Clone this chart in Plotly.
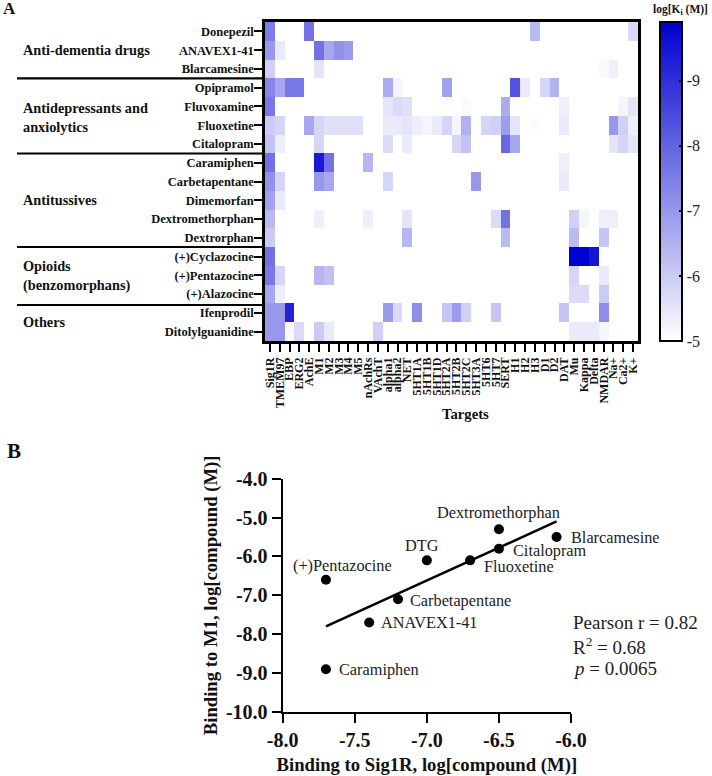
import plotly.graph_objects as go

N = None
targets = ["Sig1R","TMEM97","EBP","ERG2","AchE","M1","M2","M3","M4","M5","nAchRs","VAchT","alpha1","alpha2","NET",
           "5HT1A","5HT1B","5HT1D","5HT2A","5HT2B","5HT2C","5HT3A","5HT6","5HT7","SERT","H1","H2","H3","D1","D2",
           "DAT","Mu","Kappa","Delta","NMDAR","Na+","Ca2+","K+"]
compounds = ["Donepezil","ANAVEX1-41","Blarcamesine","Opipramol","Fluvoxamine","Fluoxetine","Citalopram","Caramiphen",
             "Carbetapentane","Dimemorfan","Dextromethorphan","Dextrorphan","(+)Cyclazocine","(+)Pentazocine",
             "(+)Alazocine","Ifenprodil","Ditolylguanidine"]

donepezil    = [-7.5,N,N,N,-7.7, N,N,N,N,N, N,N,N,N,N, N,N,N,N,N, N,N,N,N,N, N,N,-6.3,N,N, N,N,N,N,N, N,N,-5.7]
anavex       = [-7.0,-5.4,N,N,N, -7.7,-6.7,-7.1,-6.9,N, N,N,N,N,N, N,N,N,N,N, N,N,N,N,N, N,N,N,N,N, N,N,N,N,N, N,N,N]
blarcamesine = [-5.9,N,N,N,N, -5.5,N,N,N,N, N,N,N,N,N, N,N,N,N,N, N,N,N,N,N, N,N,N,N,N, N,N,N,N,-5.1, -5.3,N,N]
opipramol    = [-7.3,-6.7,-7.6,-7.6,N, N,N,N,N,N, N,N,-6.6,-5.2,N, N,N,N,-6.8,N, N,N,N,N,N, -8.3,-5.4,N,-5.8,-6.5, N,N,N,N,N, N,N,N]
fluvoxamine  = [-7.6,N,N,N,N, N,N,N,N,N, N,N,-5.5,-5.7,-5.6, N,N,N,N,N, -5.1,N,N,N,-6.6, N,N,N,N,N, -5.3,N,N,N,N, N,-5.2,-5.5]
fluoxetine   = [-6.0,-5.8,N,N,-6.7, -5.8,-5.6,-5.6,-5.6,-5.6, N,N,-5.4,-5.4,-5.5, -5.3,-5.2,-5.4,-5.8,-5.2, -6.5,N,-5.8,-5.9,-6.9, -5.5,N,-5.05,N,N, -5.4,N,N,N,N, -7.0,-5.9,-5.3]
citalopram   = [-6.2,-5.3,N,N,N, -5.8,N,N,N,N, N,N,-5.7,N,-5.4, N,N,N,N,-5.8, -6.2,N,N,N,-7.9, -6.7,N,N,N,N, N,N,N,N,N, -5.5,-5.8,-5.5]
caramiphen   = [-7.7,N,N,N,N, -9.4,-7.7,N,N,N, -6.4,N,N,N,N, N,N,N,N,N, N,N,N,N,N, N,N,N,N,N, -5.3,N,N,N,N, N,N,N]
carbetapentane = [-7.1,-5.8,N,N,N, -7.0,-6.7,N,N,N, N,N,-5.8,N,N, N,N,N,N,N, N,-7.0,N,N,N, N,N,N,N,N, -5.4,N,N,N,N, N,N,N]
dimemorfan   = [-6.8,-5.4,N,N,N, N,N,N,N,N, N,N,N,N,N, N,N,N,N,N, N,N,N,N,N, N,N,N,N,N, N,N,N,N,N, N,N,N]
dextromethorphan = [-6.3,N,N,N,N, -5.3,N,N,N,N, -5.3,N,N,N,-5.5, N,N,N,N,N, N,N,N,-5.7,-7.7, N,N,N,N,N, N,-5.9,-5.2,N,-5.3, -5.3,N,N]
dextrorphan  = [-6.0,N,N,N,N, N,N,N,N,N, N,N,N,N,-6.4, N,N,N,N,N, N,N,N,N,-6.3, N,N,N,N,N, N,-6.3,N,N,-6.1, N,N,N]
cyclazocine  = [-7.7,N,N,N,N, N,N,N,N,N, N,N,N,N,N, N,N,N,N,N, N,N,N,N,N, N,N,N,N,N, N,-9.9,-9.9,-9.5,N, N,N,N]
pentazocine  = [-7.6,-5.8,N,N,N, -6.4,-6.2,N,N,N, N,N,N,N,N, N,N,N,N,N, N,N,N,N,N, N,N,N,N,N, N,-5.8,N,N,-5.4, N,N,N]
alazocine    = [-6.7,-5.3,N,N,N, N,N,N,N,N, N,N,N,N,N, N,N,N,N,N, N,N,N,N,N, N,N,N,N,N, N,-5.7,-5.7,N,-6.0, N,N,N]
ifenprodil   = [-7.0,-7.0,-9.2,N,N, N,N,N,N,N, N,N,-6.9,-5.7,N, -7.2,N,N,-6.1,-6.9, -5.9,N,N,-6.1,N, N,N,N,N,N, -6.1,N,N,N,-7.2, N,N,N]
ditolyl      = [-7.0,-7.0,-5.1,-5.7,N, -6.0,-5.4,N,N,N, N,-5.9,N,N,N, N,N,N,N,N, N,N,N,N,N, N,N,N,N,N, N,-5.4,-5.4,-5.4,-5.2, N,N,N]

rows = [donepezil, anavex, blarcamesine, opipramol, fluvoxamine, fluoxetine, citalopram, caramiphen, carbetapentane,
        dimemorfan, dextromethorphan, dextrorphan, cyclazocine, pentazocine, alazocine, ifenprodil, ditolyl]

cb_ticks = [-5, -6, -7, -8, -9]

scatter_names = ["(+)Pentazocine","Caramiphen","ANAVEX1-41","Carbetapentane","DTG","Fluoxetine","Dextromethorphan","Citalopram","Blarcamesine"]
sig1r = [-7.7,-7.7,-7.4,-7.2,-7.0,-6.7,-6.5,-6.5,-6.1]
m1    = [-6.6,-8.9,-7.7,-7.1,-6.1,-6.1,-5.3,-5.8,-5.5]
fit_x = [-7.7,-6.1]
fit_y = [-7.8,-5.1]

label_pos = [("center",17,14),("left",11,0),("left",10,0),("left",10,-1),("center",-5,15),
             ("left",12,-6),("center",0,17),("left",12,-2),("left",12,0)]

groups = [("Anti-dementia drugs",50),("Antidepressants and<br>anxiolytics",117),("Antitussives",200),
          ("Opioids<br>(benzomorphans)",276),("Others",322)]
sep_y = [78.3,153.5,247,305]

W, H = 712, 776
MARGIN_R = 60
PW = W - MARGIN_R
FONT = "Liberation Serif"
px = lambda v: v / PW
py = lambda v: 1 - v / H

fig = go.Figure()
fig.add_trace(go.Heatmap(
    z=[[(-v if v is not None else None) for v in r] for r in rows],
    x=targets, y=compounds, xaxis="x", yaxis="y",
    zmin=5, zmax=9.9, xgap=0, ygap=0, hoverongaps=False,
    colorscale=[[0,"#ffffff"],[1,"#0000d0"]],
    colorbar=dict(
        xref="container", yref="container",
        x=660/W, xanchor="left", xpad=0, y=py(22), yanchor="top", ypad=0,
        lenmode="fraction", len=319/H, thicknessmode="pixels", thickness=22,
        outlinewidth=2, outlinecolor="#000000",
        tickmode="array", tickvals=[-t for t in cb_ticks], ticktext=[str(t) for t in cb_ticks],
        ticks="inside", ticklen=4, tickwidth=1.5, tickcolor="#000000",
        tickfont=dict(family=FONT, size=16, color="#222222"),
    ),
))
fig.add_trace(go.Scatter(x=sig1r, y=m1, mode="markers", xaxis="x2", yaxis="y2", showlegend=False,
                         marker=dict(color="#000000", size=10)))
fig.add_trace(go.Scatter(x=fit_x, y=fit_y, mode="lines", xaxis="x2", yaxis="y2", showlegend=False,
                         line=dict(color="#000000", width=2.5)))

ann = []
for name, x, y, (anc, dx, dy) in zip(scatter_names, sig1r, m1, label_pos):
    ann.append(dict(x=x, y=y, xref="x2", yref="y2", text=name, showarrow=False, xanchor=anc, yanchor="middle",
                    xshift=dx, yshift=dy, font=dict(family=FONT, size=16.3, color="#222222")))
for text, yc in groups:
    ann.append(dict(x=px(21), y=py(yc), xref="paper", yref="paper", text=f"<b>{text}</b>", showarrow=False,
                    xanchor="left", yanchor="middle", align="left", font=dict(family=FONT, size=14.3, color="#111111")))
ann.append(dict(x=px(1), y=py(9), xref="paper", yref="paper", text="<b>A</b>", showarrow=False, xanchor="left",
                yanchor="middle", font=dict(family=FONT, size=17, color="#111111")))
ann.append(dict(x=px(5), y=py(451), xref="paper", yref="paper", text="<b>B</b>", showarrow=False, xanchor="left",
                yanchor="middle", font=dict(family=FONT, size=21, color="#111111")))
ann.append(dict(x=px(680), y=py(10), xref="paper", yref="paper", text="<b>log[K<sub>i</sub> (M)]</b>", showarrow=False,
                xanchor="center", yanchor="middle", font=dict(family=FONT, size=11.5, color="#111111")))
ann.append(dict(x=px(465), y=py(414), xref="paper", yref="paper", text="<b>Targets</b>", showarrow=False,
                xanchor="center", yanchor="middle", font=dict(family=FONT, size=14.7, color="#111111")))
for text, yc in [("Pearson r = 0.82",622),("R<sup>2</sup> = 0.68",646),("<i>p</i> = 0.0065",668)]:
    ann.append(dict(x=px(571), y=py(yc), xref="paper", yref="paper", text=text, showarrow=False, xanchor="left",
                    yanchor="middle", font=dict(family=FONT, size=19, color="#222222")))

shapes = [dict(type="line", xref="paper", yref="paper", x0=px(17), x1=px(265), y0=py(v), y1=py(v),
               line=dict(color="#000000", width=2.2)) for v in sep_y]

fig.update_layout(
    width=W, height=H, margin=dict(l=0, r=MARGIN_R, t=0, b=0), plot_bgcolor="#ffffff", paper_bgcolor="#ffffff",
    showlegend=False, font=dict(family=FONT, color="#111111"), annotations=ann, shapes=shapes,
    xaxis=dict(domain=[px(265), px(638)], anchor="y", type="category", side="bottom", showgrid=False, zeroline=False,
               showline=True, mirror=True, linecolor="#000000", linewidth=2.5, automargin=False,
               ticks="outside", ticklen=8, tickwidth=1.8, tickcolor="#000000", tickangle=-90,
               tickmode="linear", dtick=1, ticklabelstandoff=1,
               tickfont=dict(family=FONT, size=12, color="#111111", weight="bold")),
    yaxis=dict(domain=[py(341), py(22)], anchor="x", type="category", autorange="reversed", showgrid=False, zeroline=False,
               showline=True, mirror=True, linecolor="#000000", linewidth=2.5, automargin=False,
               ticks="outside", ticklen=8, tickwidth=1.8, tickcolor="#000000", tickmode="linear", dtick=1,
               ticklabelstandoff=-2,
               tickfont=dict(family=FONT, size=12.5, color="#111111", weight="bold")),
    xaxis2=dict(domain=[px(282.7), px(571)], anchor="y2", range=[-8,-6], tickvals=[-8,-7.5,-7,-6.5,-6],
                ticktext=["-8.0","-7.5","-7.0","-6.5","-6.0"], showgrid=False, zeroline=False, showline=True,
                linecolor="#000000", linewidth=2.2, ticks="outside", ticklen=9, tickwidth=2, tickcolor="#000000", automargin=False,
                tickfont=dict(family=FONT, size=20, color="#111111", weight="bold"),
                title=dict(text="<b>Binding to Sig1R, log[compound (M)]</b>", font=dict(family=FONT, size=18.7, color="#111111"), standoff=8)),
    yaxis2=dict(domain=[py(712), py(478.7)], anchor="x2", range=[-10,-4], tickvals=[-10,-9,-8,-7,-6,-5,-4],
                ticktext=["-10.0","-9.0","-8.0","-7.0","-6.0","-5.0","-4.0"], showgrid=False, zeroline=False, showline=True,
                linecolor="#000000", linewidth=2.2, ticks="outside", ticklen=9, tickwidth=2, tickcolor="#000000", automargin=False,
                tickfont=dict(family=FONT, size=20, color="#111111", weight="bold"),
                title=dict(text="<b>Binding to M1, log[compound (M)]</b>", font=dict(family=FONT, size=18.7, color="#111111"), standoff=3)),
)
fig.write_html("out.html", config=dict(displayModeBar=False), post_script="document.body.style.margin='0';")
